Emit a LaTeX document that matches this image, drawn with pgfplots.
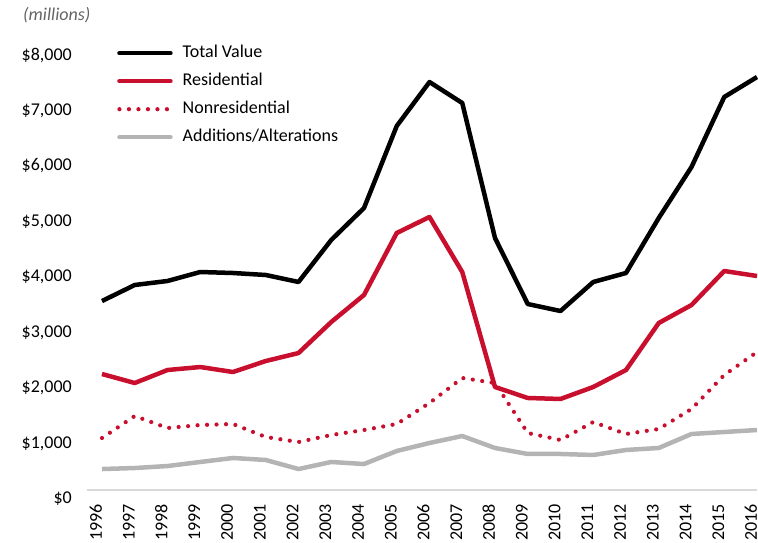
\documentclass[border=0pt]{standalone}
\usepackage{fontspec}
\setmainfont{Carlito}
\usepackage{pgfplots}
\pgfplotsset{compat=1.18}
\definecolor{resred}{RGB}{200,16,46}
\definecolor{addgray}{RGB}{180,180,180}
\definecolor{basegray}{RGB}{217,217,217}
\definecolor{unitgray}{RGB}{100,100,100}
\newcommand\fz{\fontsize{18}{21}\selectfont}

\begin{document}
\begin{tikzpicture}
\begin{axis}[
  name=ax,
  scale only axis,
  width=655pt, height=444pt,
  xmin=1996, xmax=2016, ymin=0, ymax=8000,
  axis line style={draw=none},
  major tick length=0pt,
  clip=false,
  xtick={1996,...,2016},
  xticklabels={1996,1997,1998,1999,2000,2001,2002,2003,2004,2005,2006,2007,2008,2009,2010,2011,2012,2013,2014,2015,2016},
  xticklabel style={font=\fz, rotate=90, anchor=base east, inner sep=0pt},
  xticklabel shift=14pt,
  ytick={0,1000,...,8000},
  yticklabels={{\$0},{\$1,000},{\$2,000},{\$3,000},{\$4,000},{\$5,000},{\$6,000},{\$7,000},{\$8,000}},
  yticklabel style={font=\fz, anchor=east, inner sep=0pt, xshift=-30pt, yshift=-9pt},
  every axis plot/.append style={line width=4.5pt, line join=round},
  legend cell align=left,
  legend style={draw=none, fill=none, font=\fz, inner sep=0pt,
    at={(axis description cs:0,1)}, anchor=north west, xshift=13pt, yshift=1pt,
    row sep=12pt, nodes={inner sep=0pt, text height=12pt, text depth=4pt}},
  legend image code/.code={\draw[#1, line cap=round] (2pt,0pt) -- (53pt,0pt); \path (0pt,0pt) (63pt,0pt);},
]
% baseline
\draw[basegray, line width=1.2pt] (axis cs:1995.54,0) -- (axis cs:2016,0);

\addplot[black] coordinates {
  (1996,3405) (1997,3694) (1998,3766) (1999,3928) (2000,3910) (2001,3874)
  (2002,3748) (2003,4505) (2004,5081) (2005,6559) (2006,7351) (2007,6973)
  (2008,4541) (2009,3351) (2010,3225) (2011,3748) (2012,3910) (2013,4901)
  (2014,5820) (2015,7081) (2016,7441)
};
\addlegendentry{Total Value}

\addplot[resred] coordinates {
  (1996,2090) (1997,1928) (1998,2162) (1999,2216) (2000,2126) (2001,2324)
  (2002,2468) (2003,3027) (2004,3514) (2005,4631) (2006,4919) (2007,3928)
  (2008,1856) (2009,1658) (2010,1640) (2011,1856) (2012,2162) (2013,3009)
  (2014,3333) (2015,3946) (2016,3856)
};
\addlegendentry{Residential}

\addplot[resred, line width=4.2pt, line cap=round, dash pattern=on 0pt off 9.5pt] coordinates {
  (1996,937) (1997,1333) (1998,1117) (1999,1171) (2000,1189) (2001,955)
  (2002,865) (2003,991) (2004,1081) (2005,1189) (2006,1568) (2007,2018)
  (2008,1928) (2009,1027) (2010,901) (2011,1225) (2012,1009) (2013,1099)
  (2014,1459) (2015,2072) (2016,2486)
};
\addlegendentry{Nonresidential}

\addplot[addgray] coordinates {
  (1996,378) (1997,396) (1998,432) (1999,505) (2000,577) (2001,541)
  (2002,378) (2003,505) (2004,468) (2005,703) (2006,847) (2007,973)
  (2008,757) (2009,649) (2010,649) (2011,631) (2012,721) (2013,757)
  (2014,1009) (2015,1045) (2016,1081)
};
\addlegendentry{Additions/Alterations}

\node[anchor=west, inner sep=0pt, font=\fz\itshape, text=unitgray, xshift=-79pt, yshift=31pt]
  at (rel axis cs:0,1) {(millions)};
\end{axis}
\pgfresetboundingbox
\path[use as bounding box] ([xshift=-102pt,yshift=-52pt]ax.south west) rectangle ++(758pt,542pt);
\end{tikzpicture}
\end{document}
